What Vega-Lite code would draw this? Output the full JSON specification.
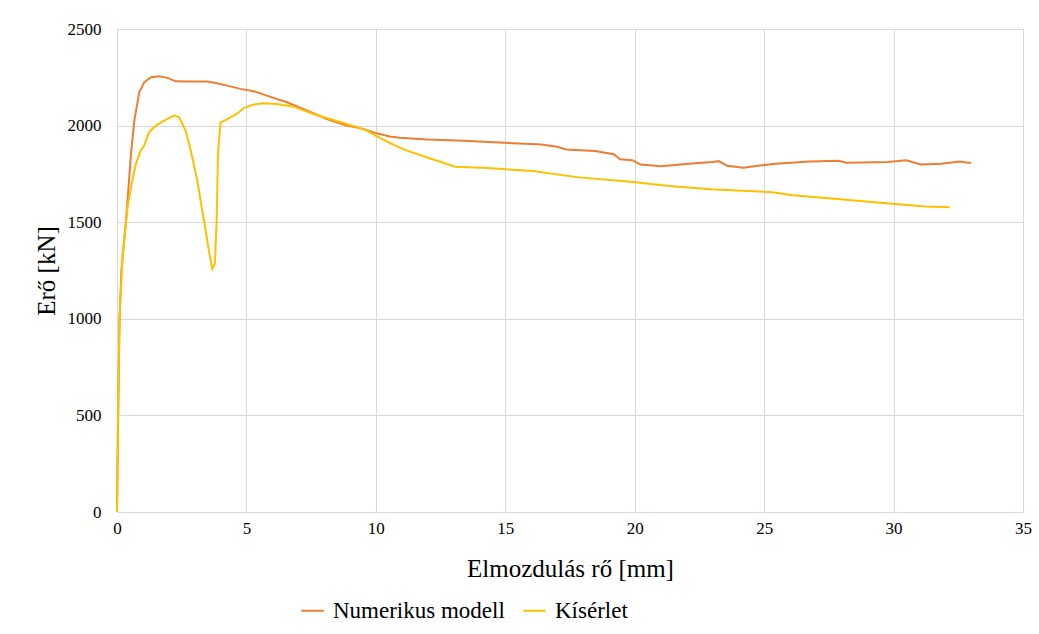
{
  "$schema": "https://vega.github.io/schema/vega-lite/v6.json",
  "width": 906,
  "height": 483,
  "autosize": {"type": "none"},
  "padding": {"left": 117, "top": 29, "right": 16, "bottom": 122},
  "background": "white",
  "config": {
    "font": "'Liberation Serif', 'Times New Roman', 'DejaVu Serif', serif",
    "view": {"stroke": "#D9D9D9", "strokeWidth": 1},
    "axis": {"gridColor": "#D9D9D9", "gridWidth": 1, "domain": false, "ticks": false, "labelColor": "#000000", "titleColor": "#000000", "labelFont": "'Liberation Serif', 'Times New Roman', 'DejaVu Serif', serif", "titleFont": "'Liberation Serif', 'Times New Roman', 'DejaVu Serif', serif", "titleFontWeight": "normal", "labelFontSize": 17, "titleFontSize": 25, "labelFlush": false}
  },
  "data": {"values": [
    {"x":0,"y":0,"s":"Numerikus modell"},
    {"x":0.05,"y":550,"s":"Numerikus modell"},
    {"x":0.1,"y":1000,"s":"Numerikus modell"},
    {"x":0.17,"y":1250,"s":"Numerikus modell"},
    {"x":0.35,"y":1509,"s":"Numerikus modell"},
    {"x":0.54,"y":1853,"s":"Numerikus modell"},
    {"x":0.67,"y":2026,"s":"Numerikus modell"},
    {"x":0.86,"y":2172,"s":"Numerikus modell"},
    {"x":1.05,"y":2224,"s":"Numerikus modell"},
    {"x":1.31,"y":2250,"s":"Numerikus modell"},
    {"x":1.63,"y":2255,"s":"Numerikus modell"},
    {"x":1.95,"y":2247,"s":"Numerikus modell"},
    {"x":2.27,"y":2229,"s":"Numerikus modell"},
    {"x":2.72,"y":2228,"s":"Numerikus modell"},
    {"x":3.49,"y":2228,"s":"Numerikus modell"},
    {"x":3.81,"y":2221,"s":"Numerikus modell"},
    {"x":4.26,"y":2207,"s":"Numerikus modell"},
    {"x":4.77,"y":2190,"s":"Numerikus modell"},
    {"x":5.28,"y":2178,"s":"Numerikus modell"},
    {"x":5.79,"y":2155,"s":"Numerikus modell"},
    {"x":6.56,"y":2121,"s":"Numerikus modell"},
    {"x":7.33,"y":2078,"s":"Numerikus modell"},
    {"x":8.10,"y":2034,"s":"Numerikus modell"},
    {"x":8.87,"y":2000,"s":"Numerikus modell"},
    {"x":9.51,"y":1983,"s":"Numerikus modell"},
    {"x":10.03,"y":1960,"s":"Numerikus modell"},
    {"x":10.54,"y":1944,"s":"Numerikus modell"},
    {"x":10.92,"y":1937,"s":"Numerikus modell"},
    {"x":12.0,"y":1928,"s":"Numerikus modell"},
    {"x":13.38,"y":1921,"s":"Numerikus modell"},
    {"x":14.97,"y":1911,"s":"Numerikus modell"},
    {"x":16.40,"y":1902,"s":"Numerikus modell"},
    {"x":17.0,"y":1890,"s":"Numerikus modell"},
    {"x":17.36,"y":1876,"s":"Numerikus modell"},
    {"x":18.47,"y":1868,"s":"Numerikus modell"},
    {"x":19.19,"y":1852,"s":"Numerikus modell"},
    {"x":19.43,"y":1826,"s":"Numerikus modell"},
    {"x":19.90,"y":1821,"s":"Numerikus modell"},
    {"x":20.22,"y":1799,"s":"Numerikus modell"},
    {"x":21.02,"y":1790,"s":"Numerikus modell"},
    {"x":21.97,"y":1801,"s":"Numerikus modell"},
    {"x":23.0,"y":1812,"s":"Numerikus modell"},
    {"x":23.25,"y":1816,"s":"Numerikus modell"},
    {"x":23.57,"y":1792,"s":"Numerikus modell"},
    {"x":24.20,"y":1782,"s":"Numerikus modell"},
    {"x":25.32,"y":1801,"s":"Numerikus modell"},
    {"x":26.75,"y":1814,"s":"Numerikus modell"},
    {"x":27.87,"y":1818,"s":"Numerikus modell"},
    {"x":28.18,"y":1808,"s":"Numerikus modell"},
    {"x":29.78,"y":1811,"s":"Numerikus modell"},
    {"x":30.49,"y":1820,"s":"Numerikus modell"},
    {"x":31.05,"y":1799,"s":"Numerikus modell"},
    {"x":31.85,"y":1802,"s":"Numerikus modell"},
    {"x":32.56,"y":1814,"s":"Numerikus modell"},
    {"x":32.88,"y":1808,"s":"Numerikus modell"},
    {"x":33.0,"y":1808,"s":"Numerikus modell"},
    {"x":0,"y":0,"s":"Kísérlet"},
    {"x":0.04,"y":500,"s":"Kísérlet"},
    {"x":0.09,"y":992,"s":"Kísérlet"},
    {"x":0.22,"y":1336,"s":"Kísérlet"},
    {"x":0.41,"y":1578,"s":"Kísérlet"},
    {"x":0.54,"y":1681,"s":"Kísérlet"},
    {"x":0.73,"y":1802,"s":"Kísérlet"},
    {"x":0.92,"y":1871,"s":"Kísérlet"},
    {"x":1.05,"y":1897,"s":"Kísérlet"},
    {"x":1.24,"y":1966,"s":"Kísérlet"},
    {"x":1.5,"y":2000,"s":"Kísérlet"},
    {"x":1.76,"y":2021,"s":"Kísérlet"},
    {"x":2.01,"y":2040,"s":"Kísérlet"},
    {"x":2.21,"y":2052,"s":"Kísérlet"},
    {"x":2.40,"y":2043,"s":"Kísérlet"},
    {"x":2.65,"y":1974,"s":"Kísérlet"},
    {"x":2.85,"y":1871,"s":"Kísérlet"},
    {"x":3.10,"y":1716,"s":"Kísérlet"},
    {"x":3.36,"y":1509,"s":"Kísérlet"},
    {"x":3.55,"y":1353,"s":"Kísérlet"},
    {"x":3.68,"y":1259,"s":"Kísérlet"},
    {"x":3.74,"y":1275,"s":"Kísérlet"},
    {"x":3.78,"y":1285,"s":"Kísérlet"},
    {"x":3.85,"y":1509,"s":"Kísérlet"},
    {"x":3.90,"y":1853,"s":"Kísérlet"},
    {"x":4.0,"y":2017,"s":"Kísérlet"},
    {"x":4.26,"y":2034,"s":"Kísérlet"},
    {"x":4.51,"y":2052,"s":"Kísérlet"},
    {"x":4.71,"y":2069,"s":"Kísérlet"},
    {"x":4.90,"y":2091,"s":"Kísérlet"},
    {"x":5.28,"y":2109,"s":"Kísérlet"},
    {"x":5.67,"y":2116,"s":"Kísérlet"},
    {"x":6.18,"y":2112,"s":"Kísérlet"},
    {"x":6.82,"y":2098,"s":"Kísérlet"},
    {"x":7.59,"y":2060,"s":"Kísérlet"},
    {"x":8.36,"y":2029,"s":"Kísérlet"},
    {"x":9.38,"y":1988,"s":"Kísérlet"},
    {"x":9.64,"y":1974,"s":"Kísérlet"},
    {"x":10.03,"y":1945,"s":"Kísérlet"},
    {"x":10.54,"y":1910,"s":"Kísérlet"},
    {"x":11.15,"y":1873,"s":"Kísérlet"},
    {"x":12.10,"y":1830,"s":"Kísérlet"},
    {"x":13.06,"y":1787,"s":"Kísérlet"},
    {"x":14.33,"y":1780,"s":"Kísérlet"},
    {"x":16.08,"y":1765,"s":"Kísérlet"},
    {"x":17.83,"y":1732,"s":"Kísérlet"},
    {"x":19.75,"y":1711,"s":"Kísérlet"},
    {"x":21.34,"y":1687,"s":"Kísérlet"},
    {"x":22.93,"y":1670,"s":"Kísérlet"},
    {"x":25.32,"y":1655,"s":"Kísérlet"},
    {"x":26.11,"y":1639,"s":"Kísérlet"},
    {"x":27.71,"y":1622,"s":"Kísérlet"},
    {"x":29.94,"y":1595,"s":"Kísérlet"},
    {"x":31.21,"y":1581,"s":"Kísérlet"},
    {"x":32.17,"y":1577,"s":"Kísérlet"}
  ]},
  "mark": {"type": "line", "strokeWidth": 2, "interpolate": "linear"},
  "encoding": {
    "x": {"field": "x", "type": "quantitative", "scale": {"domain": [0, 35], "nice": false},
      "axis": {"values": [0,5,10,15,20,25,30,35], "format": "d", "title": "Elmozdulás rő [mm]", "labelPadding": 8, "titlePadding": 20}},
    "y": {"field": "y", "type": "quantitative", "scale": {"domain": [0, 2500], "nice": false},
      "axis": {"values": [0,500,1000,1500,2000,2500], "format": "d", "title": "Erő [kN]", "labelPadding": 16, "titlePadding": 8}},
    "color": {"field": "s", "type": "nominal",
      "scale": {"domain": ["Numerikus modell", "Kísérlet"], "range": ["#ED7D31", "#FFC000"]},
      "legend": {"title": null, "orient": "none", "legendX": 183, "legendY": 569, "direction": "horizontal", "columns": 2,
        "symbolType": "stroke", "symbolSize": 500, "symbolStrokeWidth": 2, "labelFontSize": 23, "labelFont": "'Liberation Serif', 'Times New Roman', 'DejaVu Serif', serif", "labelColor": "#000000", "labelLimit": 400, "columnPadding": 14, "labelOffset": 8}},
    "order": {"field": "x", "type": "quantitative"}
  }
}
